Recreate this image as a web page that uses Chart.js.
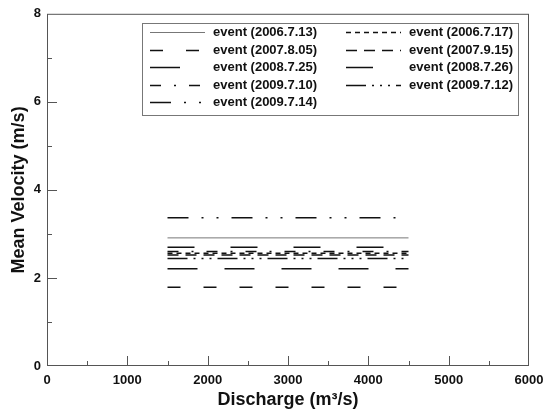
<!DOCTYPE html>
<html>
<head>
<meta charset="utf-8">
<script src="https://cdn.jsdelivr.net/npm/chart.js@4.4.1/dist/chart.umd.min.js"></script>
<style>
  html, body { margin: 0; padding: 0; background: #fff; }
</style>
</head>
<body>
<canvas id="chart" width="553" height="413"></canvas>
<script>
// ── Data ──
const eventLabels = [
    'event (2006.7.13)', 'event (2006.7.17)',
    'event (2007.8.05)', 'event (2007.9.15)',
    'event (2008.7.25)', 'event (2008.7.26)',
    'event (2009.7.10)', 'event (2009.7.12)',
    'event (2009.7.14)',
];
const dischargeRange = [1500, 4500];          // m3/s, start & end of each line
const meanVelocity = [2.91, 2.56, 1.79, 2.52, 2.21, 2.70, 2.60, 2.44, 3.37];
const xTicks = [0, 1000, 2000, 3000, 4000, 5000, 6000];
const yTicks = [0, 2, 4, 6, 8];

// line styles per event (same order as labels)
const dashPatterns = [
    [],
    [5, 4],
    [13, 23],
    [11, 7],
    [30, 27],
    [27, 36],
    [11, 13, 2, 13],
    [20, 6, 2, 6, 2, 6, 2, 6],
    [21, 13, 2, 13, 2, 13],
];

const FONT = '"Liberation Sans", Arial, sans-serif';

const datasets = eventLabels.map((label, i) => ({
    label,
    data: dischargeRange.map(x => ({ x, y: meanVelocity[i] })),
    borderColor: i === 0 ? '#777' : '#111',
    borderWidth: i === 0 ? 1 : 1.5,
    borderDash: dashPatterns[i],
    pointRadius: 0,
    showLine: true,
    fill: false,
}));

// frame + inward ticks (major & minor)
const framePlugin = {
    id: 'frame',
    afterDraw(chart) {
        const { ctx, chartArea: a, scales: { x, y } } = chart;
        ctx.save();
        ctx.strokeStyle = '#555';
        ctx.lineWidth = 1;
        ctx.strokeRect(a.left + 0.5, a.top + 0.5, a.right - a.left - 1, a.bottom - a.top - 1);
        ctx.beginPath();
        for (let v = 500; v < 6000; v += 500) {
            const px = Math.round(x.getPixelForValue(v)) + 0.5;
            const len = v % 1000 === 0 ? 10 : 5;
            ctx.moveTo(px, a.bottom);
            ctx.lineTo(px, a.bottom - len);
        }
        for (let v = 1; v < 8; v++) {
            const py = Math.round(y.getPixelForValue(v)) + 0.5;
            const len = v % 2 === 0 ? 10 : 5;
            ctx.moveTo(a.left, py);
            ctx.lineTo(a.left + len, py);
        }
        ctx.stroke();
        ctx.restore();
    },
};

// boxed two-column legend with line samples
const legendPlugin = {
    id: 'boxLegend',
    afterDraw(chart) {
        const ctx = chart.ctx;
        ctx.save();
        ctx.strokeStyle = '#777';
        ctx.lineWidth = 1;
        ctx.strokeRect(142.5, 23.5, 376, 92);
        ctx.font = 'bold 13px ' + FONT;
        ctx.fillStyle = '#111';
        ctx.textBaseline = 'middle';
        chart.data.datasets.forEach((ds, i) => {
            const col = i % 2, row = Math.floor(i / 2);
            const x0 = 150 + col * 196;
            const yy = Math.round(32 + row * 17.5) + 0.5;
            ctx.strokeStyle = ds.borderColor;
            ctx.lineWidth = ds.borderWidth;
            ctx.setLineDash(ds.borderDash);
            ctx.beginPath();
            ctx.moveTo(x0, yy);
            ctx.lineTo(x0 + 55, yy);
            ctx.stroke();
            ctx.setLineDash([]);
            ctx.fillText(ds.label, x0 + 63, yy);
        });
        ctx.restore();
    },
};

new Chart(document.getElementById('chart'), {
    type: 'line',
    data: { datasets },
    options: {
        responsive: false,
        animation: false,
        layout: { padding: { top: 12, right: 24, left: 0, bottom: 0 } },
        plugins: { legend: { display: false }, tooltip: { enabled: false } },
        scales: {
            x: {
                type: 'linear', min: 0, max: 6000,
                afterFit: s => { s.height = 47; },
                afterBuildTicks: s => { s.ticks = xTicks.map(value => ({ value })); },
                grid: { display: false, drawTicks: false },
                border: { display: false },
                ticks: { padding: 7, color: '#111', font: { family: FONT, size: 13, weight: 'bold' },
                         maxRotation: 0, callback: v => String(v) },
                title: { display: true, text: 'Discharge (m³/s)', color: '#111',
                         font: { family: FONT, size: 18, weight: 'bold' }, padding: { top: 0, bottom: 2 } },
            },
            y: {
                type: 'linear', min: 0, max: 8,
                afterFit: s => { s.width = 47; },
                afterBuildTicks: s => { s.ticks = yTicks.map(value => ({ value })); },
                grid: { display: false, drawTicks: false },
                border: { display: false },
                ticks: { padding: 6, color: '#111', font: { family: FONT, size: 13, weight: 'bold' },
                         callback: v => String(v) },
                title: { display: true, text: 'Mean Velocity (m/s)', color: '#111',
                         font: { family: FONT, size: 18, weight: 'bold' }, padding: { top: 8, bottom: 0 } },
            },
        },
    },
    plugins: [framePlugin, legendPlugin],
});
</script>
</body>
</html>
